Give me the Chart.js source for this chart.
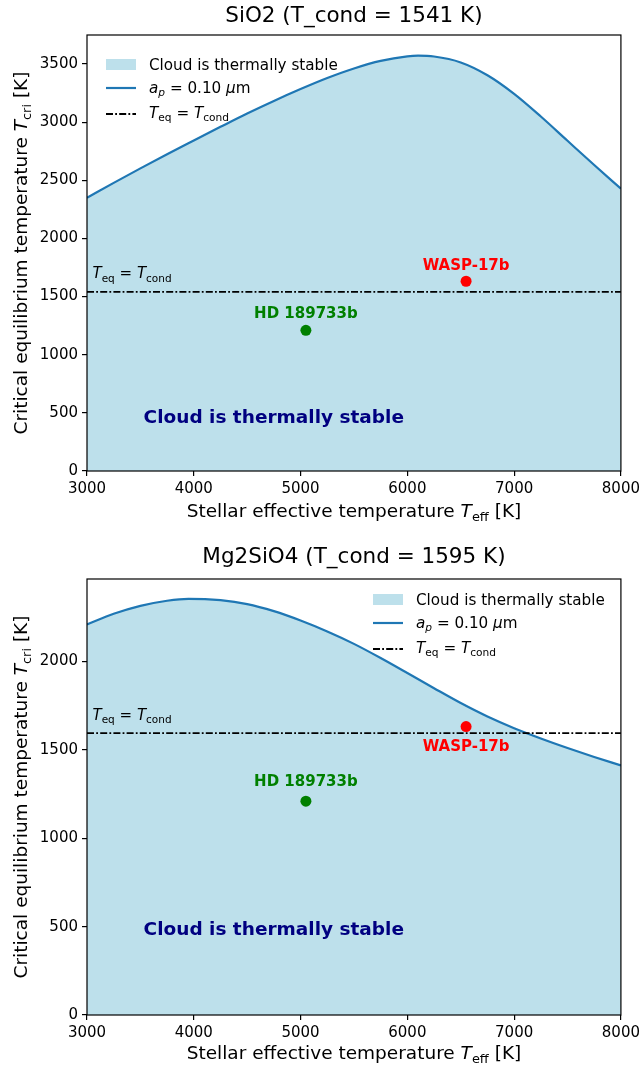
<!DOCTYPE html>
<html>
<head>
<meta charset="utf-8">
<script src="https://cdn.jsdelivr.net/npm/chart.js@4.4.1/dist/chart.umd.min.js"></script>
<style>
  html, body { margin: 0; padding: 0; background: #fff; }
  #wrap { position: relative; width: 644px; height: 1068px; }
  canvas { position: absolute; left: 0; display: block; }
</style>
</head>
<body>
<div id="wrap">
  <canvas id="c1" width="644" height="534" style="top:0"></canvas>
  <canvas id="c2" width="644" height="534" style="top:534px"></canvas>
</div>
<script>
// Critical equilibrium temperature of a cloud layer (a_p = 0.10 um) versus stellar effective temperature
const species = ['SiO2', 'Mg2SiO4'];
const tCond = [1541, 1595];

const sio2Teff = [3000, 3250, 3500, 3750, 4000, 4250, 4500, 4750, 5000, 5250, 5500, 5750, 6000, 6100, 6250, 6500, 6750, 7000, 7250, 7500, 7750, 8000];
const sio2Tcri = [2350, 2478, 2603, 2725, 2843, 2960, 3075, 3183, 3285, 3380, 3462, 3527, 3566, 3572, 3565, 3514, 3404, 3244, 3049, 2840, 2632, 2428];

const mg2sio4Teff = [3000, 3250, 3500, 3750, 3950, 4250, 4500, 4750, 5000, 5250, 5500, 5750, 6000, 6250, 6500, 6750, 7000, 7250, 7500, 7750, 8000];
const mg2sio4Tcri = [2210, 2270, 2315, 2344, 2355, 2347, 2325, 2285, 2232, 2170, 2100, 2020, 1935, 1849, 1765, 1689, 1623, 1565, 1511, 1460, 1412];

const planetNames = ['HD 189733b', 'WASP-17b'];
const planetTeff = [5050, 6550];
const planetTeq = [1210, 1632];

const xTicks = [3000, 4000, 5000, 6000, 7000, 8000];
const sio2YTicks = [0, 500, 1000, 1500, 2000, 2500, 3000, 3500];
const mg2sio4YTicks = [0, 500, 1000, 1500, 2000];
const yMax = [3750, 2467];

const FAM = '"DejaVu Sans", "Liberation Sans", sans-serif';
const FILL = 'rgba(173,216,230,0.8)';
const LINE = '#1f77b4';
const DASHDOT = [7, 2.2, 1.8, 2.2];

Chart.defaults.font.family = FAM;
Chart.defaults.font.size = 15;
Chart.defaults.color = '#000';

// Draws a run of text pieces; pieces may be italic and/or subscript (mathtext style)
function richText(ctx, parts, x, y, size, align, color, weight) {
  const fontOf = p => `${p.i ? 'italic ' : ''}${weight || 'normal'} ${p.sub ? size * 0.7 : size}px ${FAM}`;
  const widths = parts.map(p => { ctx.font = fontOf(p); return ctx.measureText(p.t).width; });
  const w = widths.reduce((a, b) => a + b, 0);
  let cx = align === 'center' ? x - w / 2 : (align === 'right' ? x - w : x);
  ctx.fillStyle = color;
  ctx.textAlign = 'left';
  ctx.textBaseline = 'alphabetic';
  parts.forEach((p, k) => {
    ctx.font = fontOf(p);
    ctx.fillText(p.t, cx, y + (p.sub ? size * 0.22 : 0));
    cx += widths[k];
  });
}

const TEQ_LABEL = [{ t: 'T', i: 1 }, { t: 'eq', sub: 1 }, { t: ' = ' }, { t: 'T', i: 1 }, { t: 'cond', sub: 1 }];
const AP_LABEL = [{ t: 'a', i: 1 }, { t: 'p', i: 1, sub: 1 }, { t: ' = 0.10 ' }, { t: 'μ', i: 1 }, { t: 'm' }];
const X_TITLE = [{ t: 'Stellar effective temperature ' }, { t: 'T', i: 1 }, { t: 'eff', sub: 1 }, { t: ' [K]' }];
const Y_TITLE = [{ t: 'Critical equilibrium temperature ' }, { t: 'T', i: 1 }, { t: 'cri', sub: 1 }, { t: ' [K]' }];

const decor = {
  id: 'decor',
  afterDatasetsDraw(chart, args, o) {
    const ctx = chart.ctx;
    const a = chart.chartArea;
    const ys = chart.scales.y, xs = chart.scales.x;
    ctx.save();
    // label of the condensation line
    const lineY = ys.getPixelForValue(o.tcond);
    richText(ctx, TEQ_LABEL, a.left + 5.5, lineY - 13.5, 15, 'left', '#000');
    // planet names next to their markers
    o.planetSets.forEach((di, k) => {
      const pt = chart.getDatasetMeta(di).data[0];
      ctx.font = `bold 15px ${FAM}`;
      ctx.fillStyle = o.planetColors[k];
      ctx.textAlign = 'center';
      ctx.textBaseline = 'alphabetic';
      ctx.fillText(planetNames[k], pt.x, pt.y + o.planetDy[k] + 5.5);
    });
    // region label
    ctx.font = `bold 18.5px ${FAM}`;
    ctx.fillStyle = '#000080';
    ctx.textAlign = 'left';
    ctx.fillText('Cloud is thermally stable', xs.getPixelForValue(o.cloud.x), ys.getPixelForValue(o.cloud.y) + 6.5);
    ctx.restore();
  },
  afterDraw(chart, args, o) {
    const ctx = chart.ctx;
    const a = chart.chartArea;
    ctx.save();
    // title over the axes
    ctx.font = `21.5px ${FAM}`;
    ctx.fillStyle = '#000';
    ctx.textAlign = 'center';
    ctx.textBaseline = 'middle';
    ctx.fillText(o.title, (a.left + a.right) / 2, o.titleY);
    // axes frame
    ctx.strokeStyle = '#000';
    ctx.lineWidth = 1.2;
    ctx.strokeRect(a.left, a.top, a.right - a.left, a.bottom - a.top);
    // axis titles
    richText(ctx, X_TITLE, (a.left + a.right) / 2, a.bottom + o.xTitleDy, 18.5, 'center', '#000');
    ctx.translate(o.yTitleX, (a.top + a.bottom) / 2);
    ctx.rotate(-Math.PI / 2);
    richText(ctx, Y_TITLE, 0, 0, 18.5, 'center', '#000');
    ctx.restore();

    // legend
    ctx.save();
    const lx = o.legendX, r = o.legendRows, hw = 30;
    ctx.fillStyle = FILL;
    ctx.fillRect(lx, r[0] - 5.5, hw, 11);
    ctx.strokeStyle = LINE;
    ctx.lineWidth = 2.2;
    ctx.beginPath(); ctx.moveTo(lx, r[1]); ctx.lineTo(lx + hw, r[1]); ctx.stroke();
    ctx.strokeStyle = '#000';
    ctx.lineWidth = 1.8;
    ctx.setLineDash(DASHDOT);
    ctx.beginPath(); ctx.moveTo(lx, r[2]); ctx.lineTo(lx + hw, r[2]); ctx.stroke();
    ctx.setLineDash([]);
    const tx = lx + hw + 13;
    ctx.font = `15.2px ${FAM}`;
    ctx.fillStyle = '#000';
    ctx.textAlign = 'left';
    ctx.textBaseline = 'alphabetic';
    ctx.fillText('Cloud is thermally stable', tx, r[0] + 5.5);
    richText(ctx, AP_LABEL, tx, r[1] + 4.5, 15.2, 'left', '#000');
    richText(ctx, TEQ_LABEL, tx, r[2] + 3.5, 15.2, 'left', '#000');
    ctx.restore();
  }
};

const layouts = [
  { top: 35, titleY: 16, xAxisH: 63, legendX: 106, legendRows: [64.5, 88, 114],
    planetDy: [-17.5, -17], cloud: { x: 3530, y: 473 }, xTitleDy: 46, yTitleX: 27 },
  { top: 45, titleY: 23, xAxisH: 53, legendX: 373, legendRows: [65.5, 89, 115],
    planetDy: [-21, 19], cloud: { x: 3530, y: 487 }, xTitleDy: 44, yTitleX: 27 }
];

function build(canvasId, idx, teff, tcri, yTicks) {
  const L = layouts[idx];
  const curve = teff.map((t, k) => ({ x: t, y: tcri[k] }));
  const planetColors = ['#008000', '#ff0000'];
  const datasets = [];
  planetNames.forEach((n, k) => {
    datasets.push({
      label: n,
      data: [{ x: planetTeff[k], y: planetTeq[k] }],
      showLine: false,
      pointRadius: 5.5,
      pointBackgroundColor: planetColors[k],
      pointBorderColor: planetColors[k],
      pointBorderWidth: 0
    });
  });
  datasets.push({
    label: 'Teq = Tcond',
    data: [{ x: xTicks[0], y: tCond[idx] }, { x: xTicks[xTicks.length - 1], y: tCond[idx] }],
    borderColor: '#000',
    borderWidth: 1.8,
    borderDash: DASHDOT,
    pointRadius: 0,
    fill: false
  });
  datasets.push({
    label: 'a_p = 0.10 um',
    data: curve,
    borderColor: LINE,
    borderWidth: 2.2,
    backgroundColor: FILL,
    fill: 'origin',
    pointRadius: 0,
    cubicInterpolationMode: 'monotone'
  });

  const tickCfg = { padding: 4, font: { size: 15 }, color: '#000', maxRotation: 0, callback: v => String(v) };
  const gridCfg = { drawOnChartArea: false, drawTicks: true, tickLength: 5, color: '#000', lineWidth: 1.2 };

  return new Chart(document.getElementById(canvasId), {
    type: 'line',
    data: { datasets },
    options: {
      responsive: false,
      animation: false,
      devicePixelRatio: 1,
      layout: { padding: { left: 0, right: 22, top: L.top, bottom: 0 } },
      plugins: {
        legend: { display: false },
        tooltip: { enabled: false },
        title: { display: false },
        decor: {
          title: `${species[idx]} (T_cond = ${tCond[idx]} K)`,
          titleY: L.titleY,
          tcond: tCond[idx],
          planetSets: [0, 1],
          planetColors,
          planetDy: L.planetDy,
          cloud: L.cloud,
          legendX: L.legendX,
          legendRows: L.legendRows,
          xTitleDy: L.xTitleDy,
          yTitleX: L.yTitleX
        }
      },
      scales: {
        x: {
          type: 'linear',
          min: xTicks[0],
          max: xTicks[xTicks.length - 1],
          border: { display: false },
          grid: gridCfg,
          ticks: tickCfg,
          afterBuildTicks(s) { s.ticks = xTicks.map(v => ({ value: v })); },
          afterFit(s) { s.height = L.xAxisH; }
        },
        y: {
          type: 'linear',
          min: 0,
          max: yMax[idx],
          border: { display: false },
          grid: gridCfg,
          ticks: tickCfg,
          afterBuildTicks(s) { s.ticks = yTicks.map(v => ({ value: v })); },
          afterFit(s) { s.width = 87; }
        }
      }
    },
    plugins: [decor]
  });
}

build('c1', 0, sio2Teff, sio2Tcri, sio2YTicks);
build('c2', 1, mg2sio4Teff, mg2sio4Tcri, mg2sio4YTicks);
</script>
</body>
</html>
